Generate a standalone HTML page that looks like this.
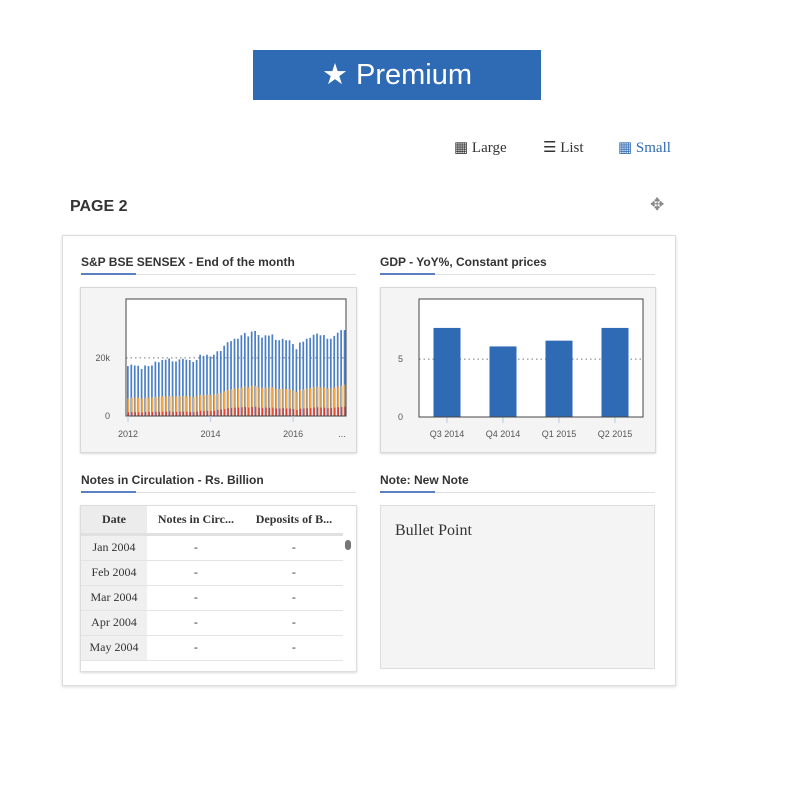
<!DOCTYPE html>
<html><head><meta charset="utf-8"><style>
body{margin:0;width:794px;height:794px;background:#fff;font-family:"Liberation Sans",sans-serif;position:relative;overflow:hidden}
.a{position:absolute}
.serif{font-family:"Liberation Serif",serif}
.title{font-size:12px;font-weight:bold;color:#333}
.uline{height:1px;background:#e0e0e0}
.uline i{display:block;width:55px;height:2px;background:#5b7fbf;margin-top:-1px}
.box{background:#f4f4f4;border:1px solid #d8d8d8;box-shadow:0 1px 2px rgba(0,0,0,.15)}
.ax{font-size:9px;fill:#555;font-family:"Liberation Sans",sans-serif}
table{border-collapse:collapse;font-family:"Liberation Serif",serif;font-size:12px;color:#333}
td,th{height:24px;border-bottom:1px solid #e4e4e4;text-align:center;padding:0}
</style></head><body>
<div class="a" style="left:253px;top:50px;width:288px;height:50px;background:#2f6ab4;color:#fff;font-size:29px;line-height:50px;text-align:center">
<span>★</span> Premium</div>

<div class="a serif" style="left:454px;top:138px;font-size:15px;color:#333">▦ Large</div>
<div class="a serif" style="left:543px;top:138px;font-size:15px;color:#333">☰ List</div>
<div class="a serif" style="left:618px;top:138px;font-size:15px;color:#2f6ab4">▦ Small</div>

<div class="a" style="left:70px;top:198px;font-size:16px;font-weight:bold;color:#333">PAGE 2</div>
<div class="a" style="left:650px;top:195px;font-size:17px;color:#888">✥</div>

<div class="a" style="left:62px;top:235px;width:612px;height:449px;border:1px solid #ddd;box-shadow:0 1px 3px rgba(0,0,0,.15);background:#fff"></div>

<div class="a title" style="left:81px;top:255px">S&amp;P BSE SENSEX - End of the month</div>
<div class="a uline" style="left:81px;top:274px;width:275px"><i></i></div>
<div class="a box" style="left:80px;top:287px;width:275px;height:164px"><svg id="c1" width="275" height="164"></svg></div>

<div class="a title" style="left:380px;top:255px">GDP - YoY%, Constant prices</div>
<div class="a uline" style="left:380px;top:274px;width:275px"><i></i></div>
<div class="a box" style="left:380px;top:287px;width:274px;height:164px"><svg id="c2" width="274" height="164"></svg></div>

<div class="a title" style="left:81px;top:473px">Notes in Circulation - Rs. Billion</div>
<div class="a uline" style="left:81px;top:492px;width:275px"><i></i></div>
<div class="a" style="left:80px;top:505px;width:275px;height:165px;border:1px solid #ddd;box-shadow:0 1px 2px rgba(0,0,0,.15);background:#fff;overflow:hidden">
<table style="width:262px">
<tr style="height:28px"><th style="background:#ececec;width:66px;border-bottom:3px solid #e0e0e0">Date</th><th style="border-bottom:3px solid #e0e0e0">Notes in Circ...</th><th style="border-bottom:3px solid #e0e0e0">Deposits of B...</th></tr>
<tr><td style="background:#f0f0f0">Jan 2004</td><td>-</td><td>-</td></tr>
<tr><td style="background:#f0f0f0">Feb 2004</td><td>-</td><td>-</td></tr>
<tr><td style="background:#f0f0f0">Mar 2004</td><td>-</td><td>-</td></tr>
<tr><td style="background:#f0f0f0">Apr 2004</td><td>-</td><td>-</td></tr>
<tr><td style="background:#f0f0f0">May 2004</td><td>-</td><td>-</td></tr>
</table>
<div class="a" style="left:264px;top:34px;width:6px;height:10px;border-radius:3px;background:#777"></div>
</div>

<div class="a title" style="left:380px;top:473px">Note: New Note</div>
<div class="a uline" style="left:380px;top:492px;width:275px"><i></i></div>
<div class="a" style="left:380px;top:505px;width:273px;height:162px;border:1px solid #ddd;background:#f4f4f4">
<div class="a serif" style="left:14px;top:16px;font-size:16px;color:#333">Bullet Point</div></div>

<script>
const sensexBlue=[17200,17700,17400,17300,16200,17400,17200,17400,18700,18500,19300,19400,19800,18800,18800,19500,19700,19400,19300,18600,19300,21100,20700,21100,20500,21100,22300,22400,24200,25400,25800,26600,26600,27800,28600,27400,29100,29300,27900,27000,27800,27700,28100,26200,26100,26600,26100,26100,24800,23000,25300,25600,26600,26900,28000,28400,27800,27900,26600,26600,27600,28700,29600,29600];
const sensexOrange=[6000,6300,6400,6300,6000,6300,6300,6300,6600,6600,6800,6800,6900,6700,6700,6900,6900,6800,6700,6500,6800,7300,7200,7400,7200,7400,7800,7900,8500,9000,9200,9500,9500,9900,10200,9800,10400,10400,9900,9600,9900,9800,9900,9300,9300,9500,9300,9300,8800,8200,9000,9100,9500,9600,10000,10100,9900,9900,9500,9500,9800,10200,10500,10800];
const sensexRed=[1300,1400,1300,1300,1200,1400,1400,1400,1500,1400,1500,1500,1600,1400,1400,1500,1500,1500,1400,1300,1500,1800,1700,1800,1700,1800,2100,2200,2400,2700,2800,2900,2900,3000,3100,2900,3100,3200,2900,2700,2900,2800,2900,2600,2600,2700,2600,2600,2400,2100,2500,2600,2700,2800,2900,3000,2900,2900,2700,2700,2900,3000,3100,3200];
const sensexTicks=[{label:"2012",i:0},{label:"2014",i:24},{label:"2016",i:48}];
const gdpCats=["Q3 2014","Q4 2014","Q1 2015","Q2 2015"];
const gdpVals=[7.7,6.1,6.6,7.7];
const NS="http://www.w3.org/2000/svg";
function mk(p,t,at){const e=document.createElementNS(NS,t);for(const k in at)e.setAttribute(k,at[k]);p.appendChild(e);return e;}
(function(){
const s=document.getElementById('c1');
const x0=45,x1=265,yT=11,yB=128,maxV=40300;
const y=v=>yB-v/maxV*(yB-yT);
const step=3.44, xi=i=>46+i*step;
mk(s,'rect',{x:x0,y:yT,width:x1-x0,height:yB-yT,fill:'#fff'});
mk(s,'line',{x1:x0,x2:x1,y1:y(20000),y2:y(20000),stroke:'#777','stroke-dasharray':'1.5,3'});
const t=mk(s,'text',{x:x0-16,y:y(20000)+3,class:'ax','text-anchor':'end'});t.textContent='20k';
const t0=mk(s,'text',{x:x0-16,y:y(0)+3,class:'ax','text-anchor':'end'});t0.textContent='0';
sensexBlue.forEach((v,i)=>{const r=mk(s,'rect',{x:xi(i),y:y(v),width:1.7,height:yB-y(v),fill:'#4a7fc6'});

});
sensexOrange.forEach((v,i)=>{const r=mk(s,'rect',{x:xi(i)+0.6,y:y(v),width:1.7,height:yB-y(v),fill:'#f2a94a'});

});
sensexRed.forEach((v,i)=>{const r=mk(s,'rect',{x:xi(i)+0.8,y:y(v),width:1.3,height:yB-y(v),fill:'#e2392b'});

});
mk(s,'rect',{x:x0,y:yT,width:x1-x0,height:yB-yT,fill:'none',stroke:'#444','stroke-width':1});
sensexTicks.forEach(k=>{const tx=xi(k.i)+1;mk(s,'line',{x1:tx,x2:tx,y1:yB,y2:yB+6,stroke:'#b8cbe6'});
const l=mk(s,'text',{x:tx,y:yB+21,class:'ax','text-anchor':'middle'});l.textContent=k.label;});
const d=mk(s,'text',{x:261,y:yB+21,class:'ax','text-anchor':'middle'});d.textContent='...';
})();
(function(){
const s=document.getElementById('c2');
const x0=38,x1=262,yT=11,yB=129,maxV=10.2;
const y=v=>yB-v/maxV*(yB-yT);
const band=(x1-x0)/gdpCats.length;
mk(s,'rect',{x:x0,y:yT,width:x1-x0,height:yB-yT,fill:'#fff'});
mk(s,'line',{x1:x0,x2:x1,y1:y(5),y2:y(5),stroke:'#777','stroke-dasharray':'1.5,3'});
const t=mk(s,'text',{x:x0-16,y:y(5)+3,class:'ax','text-anchor':'end'});t.textContent='5';
const t0=mk(s,'text',{x:x0-16,y:y(0)+3,class:'ax','text-anchor':'end'});t0.textContent='0';
gdpVals.forEach((v,i)=>{const cx=x0+band*(i+0.5);
const r=mk(s,'rect',{x:cx-13.5,y:y(v),width:27,height:yB-y(v),fill:'#2f6ab4'});


mk(s,'line',{x1:cx,x2:cx,y1:yB,y2:yB+6,stroke:'#b8cbe6'});
const l=mk(s,'text',{x:cx,y:yB+20,class:'ax','text-anchor':'middle'});l.textContent=gdpCats[i];});
mk(s,'rect',{x:x0,y:yT,width:x1-x0,height:yB-yT,fill:'none',stroke:'#444','stroke-width':1});
})();
</script>
</body></html>
